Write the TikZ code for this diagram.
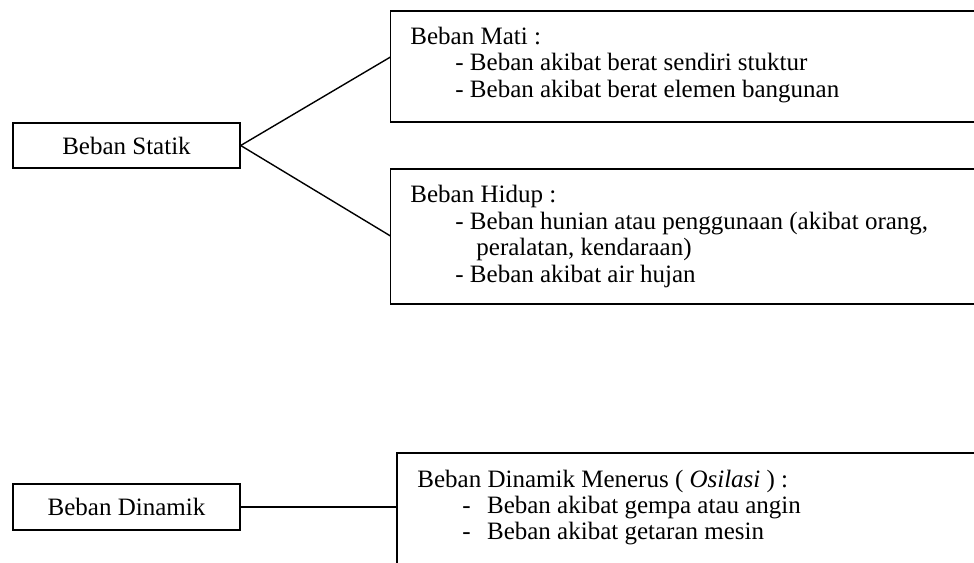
\documentclass[tikz,border=0pt]{standalone}
\usepackage{fontspec}
\setmainfont{Liberation Serif}
\usetikzlibrary{fit}
\tikzset{
  frame/.style={draw, line width=0.7pt, inner sep=0pt},
  lbl/.style={font=\fontsize{12.5}{14}\selectfont, inner sep=0pt},
  txt/.style={font=\fontsize{12.5}{14}\selectfont, inner sep=0pt, anchor=base west},
  conn/.style={line width=0.7pt},
}
\begin{document}
\begin{tikzpicture}[x=0.5pt,y=-0.5pt]
\useasboundingbox (0,0) rectangle (974,562);
\clip (0,0) rectangle (974,562);
% boxes
\coordinate (s1) at (13,123); \coordinate (s2) at (240,168);
\node[frame, fit=(s1)(s2)] (statik) {};
\node[lbl] (statikT) at (statik.center) {Beban Statik};
\coordinate (d1) at (13,484); \coordinate (d2) at (240,530);
\node[frame, fit=(d1)(d2)] (dinamik) {};
\node[lbl] (dinamikT) at (dinamik.center) {Beban Dinamik};
\coordinate (m1) at (390.5,11); \coordinate (m2) at (1000,122);
\node[frame, fit=(m1)(m2)] (mati) {};
\coordinate (h1) at (390.5,169); \coordinate (h2) at (1000,304);
\node[frame, fit=(h1)(h2)] (hidup) {};
\coordinate (n1) at (397,453); \coordinate (n2) at (1000,600);
\node[frame, fit=(n1)(n2)] (menerus) {};
% connectors
\coordinate (cm) at (390.5,57);
\coordinate (ch) at (390.5,236);
\draw[conn] (statik.east) -- (cm);
\draw[conn] (statik.east) -- (ch);
\draw[conn] (dinamik.east) -- (dinamik.east -| menerus.west);
% texts
\node[txt] (ma) at (410,44) {Beban Mati :};
\node[txt] (mb) at (455,70.5) {- Beban akibat berat sendiri stuktur};
\node[txt] (mc) at (455,97) {- Beban akibat berat elemen bangunan};
\node[txt] (ha) at (410,202) {Beban Hidup :};
\node[txt] (hb) at (455,229) {- Beban hunian atau penggunaan (akibat orang,};
\node[txt] (hc) at (476,255.5) {peralatan, kendaraan)};
\node[txt] (hd) at (455,282) {- Beban akibat air hujan};
\node[txt] (na) at (417,487) {Beban Dinamik Menerus ( \textit{Osilasi} ) :};
\node[txt] (nb) at (462,513) {-\hspace{8.2pt}Beban akibat gempa atau angin};
\node[txt] (nc) at (462,539) {-\hspace{8.2pt}Beban akibat getaran mesin};
\end{tikzpicture}
\end{document}
